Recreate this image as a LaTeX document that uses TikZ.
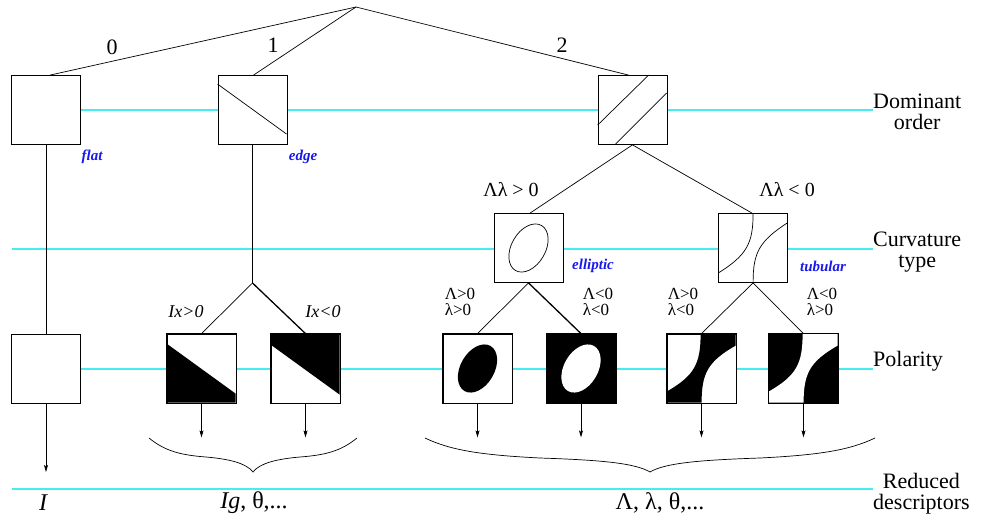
\documentclass[tikz,border=0pt]{standalone}
\usepackage{fontspec}
\setmainfont{Liberation Serif}
\usetikzlibrary{arrows.meta}
\definecolor{rowcyan}{RGB}{70,236,240}
\definecolor{tagblue}{RGB}{25,25,235}
\begin{document}
\begin{tikzpicture}[x=1pt,y=-1pt,
  box/.style={draw,fill=white,minimum width=69pt,minimum height=69pt,inner sep=0pt,line width=0.8pt},
  conn/.style={line width=0.7pt},
  boldconn/.style={line width=1.3pt},
  outarrow/.style={line width=0.7pt,-{Stealth[length=7pt,width=4pt,inset=1.5pt]}},
  rowline/.style={rowcyan,line width=1.3pt},
  tag/.style={text=tagblue,font=\fontsize{15}{15}\selectfont\bfseries\itshape},
  rowlab/.style={anchor=west,align=center,inner sep=0pt,font=\fontsize{22}{21}\selectfont},
  branch/.style={font=\fontsize{22}{22}\selectfont,inner sep=0pt},
  cond/.style={font=\fontsize{20}{20}\selectfont,inner sep=0pt},
  sign/.style={font=\fontsize{17}{16}\selectfont,align=left,inner sep=0pt},
  desc/.style={font=\fontsize{24}{24}\selectfont,inner sep=0pt},
  brace/.style={line width=0.7pt}]
\useasboundingbox (0,0) rectangle (995,519);

% row rules
\draw[rowline] (12,110) -- (873,110);
\draw[rowline] (12,249) -- (873,249);
\draw[rowline] (12,369) -- (873,369);
\draw[rowline] (12,489) -- (873,489);

% row labels
\node[rowlab] (rdom) at (873,112) {Dominant\\order};
\node[rowlab] (rcur) at (873,252) {Curvature\\type};
\node[rowlab] (rpol) at (873,361) {Polarity};
\node[rowlab] (rred) at (873,494) {Reduced\\descriptors};

% boxes
\coordinate (apex) at (356,7);
\node[box] (b0) at (46,110) {};
\node[box] (b1) at (252.5,110) {};
\node[box] (b2) at (632.5,110) {};
\node[box] (ce) at (528.5,248) {};
\node[box] (ct) at (753,248) {};
\node[box] (p0) at (46,368.5) {};
\node[box] (pa) at (201.5,368.5) {};
\node[box] (pb) at (305.5,368.5) {};
\node[box] (pe1) at (477.5,368.5) {};
\node[box] (pe2) at (581,368.5) {};
\node[box] (pt1) at (701.5,368.5) {};
\node[box] (pt2) at (803.5,368.5) {};

% box contents
\begin{scope}[shift={(b1.north west)}]
  \draw[conn] (0,9) -- (69,59);
\end{scope}
\begin{scope}[shift={(b2.north west)}]
  \draw[conn] (0,50) -- (51,0);
  \draw[conn] (69,18) -- (18,69);
\end{scope}
\begin{scope}[shift={(ce.center)}]
  \draw[conn,rotate=60] (0,0) ellipse [x radius=26, y radius=17];
\end{scope}
\begin{scope}[shift={(ct.north west)}]
  \draw[conn] (35,0) .. controls (35,30) and (29,42) .. (0,60);
  \draw[conn] (35,69) .. controls (35,40) and (41,28) .. (69,10);
\end{scope}
\begin{scope}[shift={(pa.north west)}]
  \fill (0,10) -- (69,60) -- (69,69) -- (0,69) -- cycle;
\end{scope}
\begin{scope}[shift={(pb.north west)}]
  \fill (0,0) -- (69,0) -- (69,61) -- (0,11) -- cycle;
\end{scope}
\begin{scope}[shift={(pe1.center)}]
  \fill[rotate=60] (0,0) ellipse [x radius=26, y radius=17];
\end{scope}
\begin{scope}[shift={(pe2.north west)}]
  \fill (0,0) rectangle (69,69);
\end{scope}
\begin{scope}[shift={(pe2.center)}]
  \fill[white,rotate=60] (0,0) ellipse [x radius=26, y radius=17];
\end{scope}
\begin{scope}[shift={(pt1.north west)}]
  \fill (34,0) .. controls (34,30) and (28,42) .. (0,58) -- (0,69) -- (35,69)
        .. controls (35,40) and (41,28) .. (69,12) -- (69,0) -- cycle;
\end{scope}
\begin{scope}[shift={(pt2.north west)}]
  \fill (0,0) rectangle (69,69);
  \fill[white] (34,0) .. controls (34,30) and (28,42) .. (0,58) -- (0,69) -- (35,69)
        .. controls (35,40) and (41,28) .. (69,12) -- (69,0) -- cycle;
\end{scope}
\foreach \b in {pa,pb,pe1,pe2,pt1,pt2}
  \draw[line width=0.8pt] (\b.north west) rectangle (\b.south east);

% tree connectors
\draw[conn] (apex) -- ([xshift=4pt]b0.north);
\draw[conn] (apex) -- ([xshift=1pt]b1.north);
\draw[conn] (apex) -- ([xshift=-4pt]b2.north);
\draw[conn] (b2.south) -- ([xshift=1.5pt]ce.north);
\draw[conn] (b2.south) -- ([xshift=-1pt]ct.north);
\draw[conn] (b0.south) -- (p0.north);
\coordinate (j1) at (252.5,283);
\draw[conn] (b1.south) -- (j1);
\draw[conn] (j1) -- (pa.north);
\draw[boldconn] (j1) -- (pb.north);
\draw[conn] (ce.south) -- (pe1.north);
\draw[boldconn] (ce.south) -- (pe2.north);
\draw[conn] (ct.south) -- (pt1.north);
\draw[conn] (ct.south) -- (pt2.north);

% output arrows
\coordinate (o0) at (46,472);
\draw[outarrow] (p0.south) -- (o0);
\foreach \b in {pa,pb,pe1,pe2,pt1,pt2} {
  \coordinate (o\b) at ([yshift=-34pt]\b.south);
  \draw[outarrow] (\b.south) -- (o\b);
}

% braces
\draw[brace] (149,438) .. controls (165,451) and (180,455) .. (206,457)
  .. controls (229,459) and (246,463) .. (253,472)
  .. controls (260,463) and (277,459) .. (300,457)
  .. controls (326,455) and (341,451) .. (357,438);
\draw[brace] (425,438) .. controls (450,450) and (480,455) .. (540,458)
  .. controls (600,460) and (635,463) .. (650,472)
  .. controls (665,463) and (700,460) .. (760,458)
  .. controls (820,455) and (850,450) .. (875,438);

% branch labels
\node[branch] (l0) at (112,47) {0};
\node[branch] (l1) at (273,45) {1};
\node[branch] (l2) at (562,45) {2};
\node[cond] (lpos) at (511,190) {Λλ > 0};
\node[cond] (lneg) at (787,190) {Λλ < 0};
\node[sign] (sa) at (186,312) {\fontsize{18}{18}\selectfont\itshape Ix>0};
\node[sign] (sb) at (323,312) {\fontsize{18}{18}\selectfont\itshape Ix<0};
\node[sign] (s1) at (460,302) {Λ>0\\λ>0};
\node[sign] (s2) at (598,302) {Λ<0\\λ<0};
\node[sign] (s3) at (683,302) {Λ>0\\λ<0};
\node[sign] (s4) at (822,302) {Λ<0\\λ>0};

% tags
\node[tag] (tflat) at (92,157) {flat};
\node[tag] (tedge) at (303,157) {edge};
\node[tag] (tell) at (593,266) {elliptic};
\node[tag] (ttub) at (823,266) {tubular};

% descriptors
\node[desc] (d0) at (43,503) {\itshape I};
\node[desc] (d1) at (254,503) {\textit{Ig},~θ,...};
\node[desc] (d2) at (660,503) {Λ, λ, θ,...};
\end{tikzpicture}
\end{document}
